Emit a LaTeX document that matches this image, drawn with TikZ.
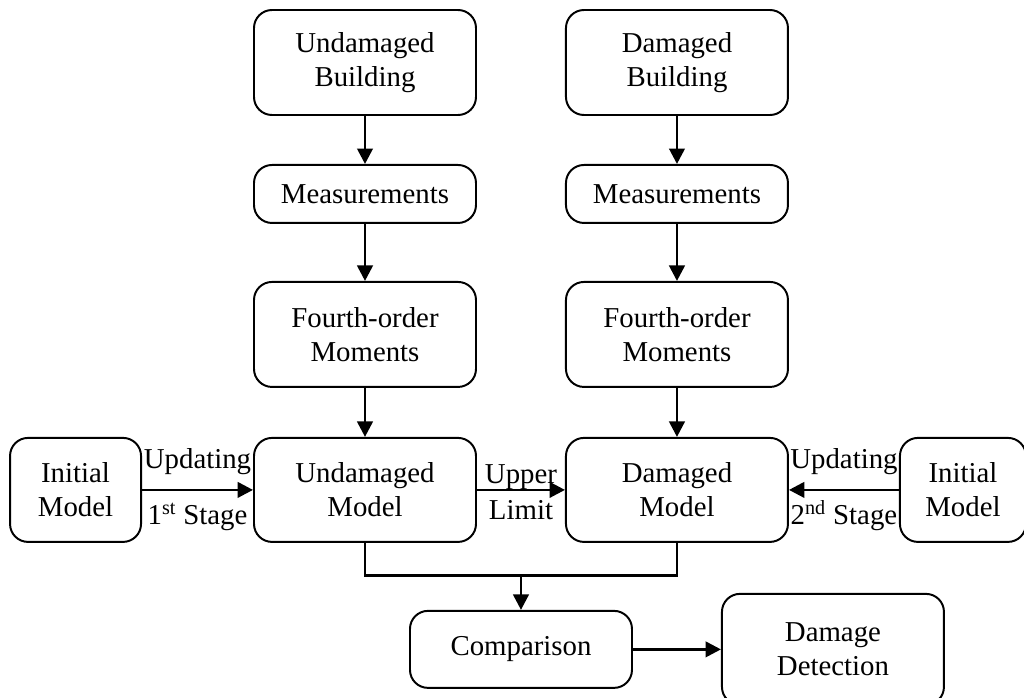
\documentclass[tikz,border=0pt]{standalone}
\usepackage{fontspec}
\setmainfont{Liberation Serif}
\usepackage{tikz}
\usetikzlibrary{arrows.meta, positioning, calc}
\tikzset{
    blk/.style={rectangle, rounded corners=0.45cm, draw=black, fill=white,
                minimum width=5.55cm, minimum height=2.625cm, align=center,
                font=\fontsize{20.5}{24.5}\selectfont, line width=1.4pt,
                inner sep=2pt},
    lbl/.style={anchor=base, font=\fontsize{20.5}{24.5}\selectfont, inner sep=0pt},
}

\begin{document}
\begin{tikzpicture}[
    arr/.style={-{Triangle[length=11pt, width=11pt]}, line width=2pt},
    lnk/.style={line width=2pt},
]
    \useasboundingbox (0,0) rectangle (25.6,-17.425);

    % Undamaged branch
    \node[blk] (ubld) at (9.125,-1.5625) {Undamaged\\Building};
    \node[blk, minimum height=1.45cm, below=1.2cm of ubld] (umeas) {Measurements};
    \node[blk, below=1.425cm of umeas] (umom) {Fourth-order\\Moments};
    \node[blk, minimum height=2.6cm, below=1.225cm of umom] (umod) {Undamaged\\Model};

    % Damaged branch
    \node[blk, right=2.2cm of ubld] (dbld) {Damaged\\Building};
    \node[blk, minimum height=1.45cm, right=2.2cm of umeas] (dmeas) {Measurements};
    \node[blk, right=2.2cm of umom] (dmom) {Fourth-order\\Moments};
    \node[blk, minimum height=2.6cm, right=2.2cm of umod] (dmod) {Damaged\\Model};

    % Initial models
    \node[blk, minimum width=3.275cm, minimum height=2.6cm, left=2.775cm of umod] (initl) {Initial\\Model};
    \node[blk, minimum width=3.15cm, minimum height=2.6cm, right=2.75cm of dmod] (initr) {Initial\\Model};

    % Comparison and detection
    \coordinate (mid) at ($(umod.south)!0.5!(dmod.south)$);
    \coordinate[below=0.825cm of mid] (join);
    \node[blk, minimum height=1.925cm, below=1.675cm of mid] (cmp) {Comparison};
    \node[blk, minimum height=2.775cm, right=2.2cm of cmp] (det) {Damage\\Detection};

    % Vertical flow
    \draw[arr] (ubld) -- (umeas);
    \draw[arr] (umeas) -- (umom);
    \draw[arr] (umom) -- (umod);
    \draw[arr] (dbld) -- (dmeas);
    \draw[arr] (dmeas) -- (dmom);
    \draw[arr] (dmom) -- (dmod);

    % Updating
    \draw[arr] (initl) -- (umod)
        node[lbl, midway, yshift=14.9pt] {Updating}
        node[lbl, midway, yshift=-24.9pt] {1\textsuperscript{st} Stage};
    \draw[arr] (initr) -- (dmod)
        node[lbl, midway, yshift=14.9pt] {Updating}
        node[lbl, midway, yshift=-24.9pt] {2\textsuperscript{nd} Stage};
    \draw[arr] (umod) -- (dmod)
        node[lbl, midway, yshift=4.3pt] {Upper}
        node[lbl, midway, yshift=-21.3pt] {Limit};

    % Merge
    \draw[lnk] (umod.south) |- (join) -| (dmod.south);
    \draw[arr] (join) -- (cmp);
    \draw[arr] (cmp) -- (det);
\end{tikzpicture}
\end{document}
